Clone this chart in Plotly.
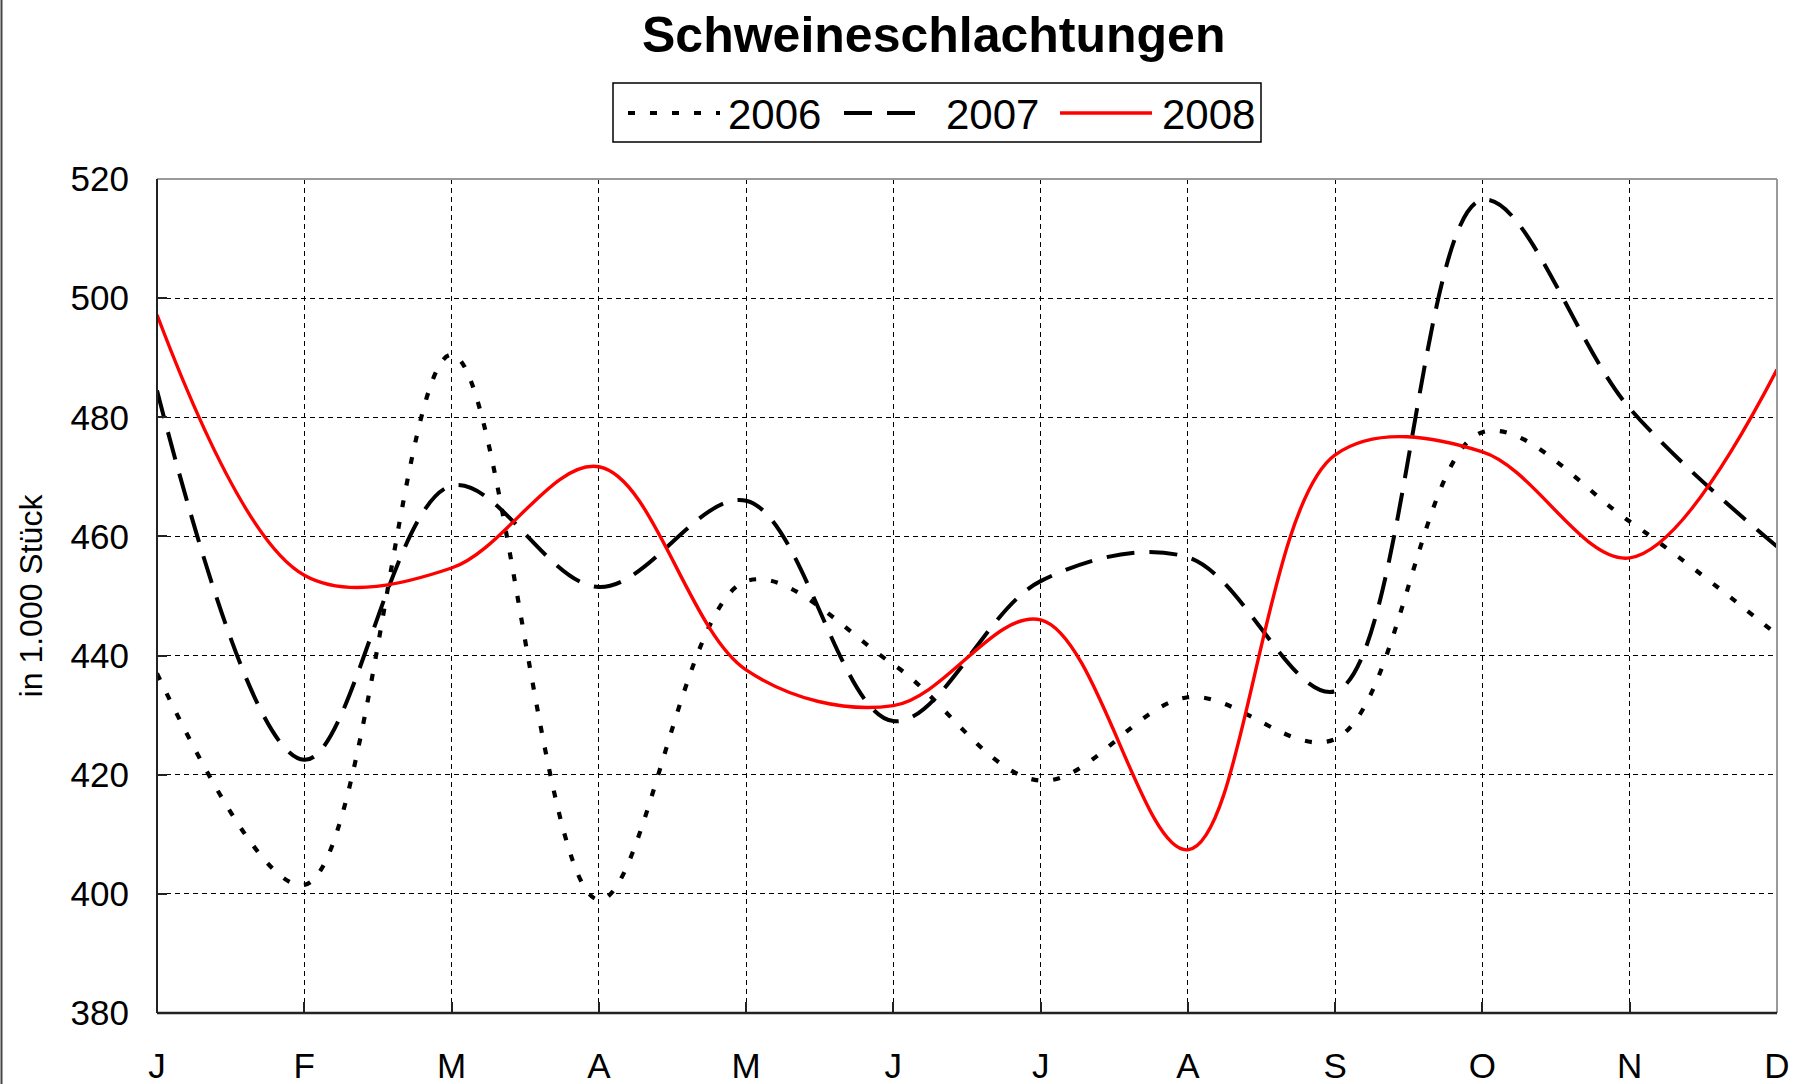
import plotly.graph_objects as go

# ---------------- data ----------------
months = ["J", "F", "M", "A", "M", "J", "J", "A", "S", "O", "N", "D"]
series_names = ["2006", "2007", "2008"]
v2006 = [437.0, 401.5, 490.5, 399.0, 452.5, 438.5, 419.0, 433.0, 426.0, 477.5, 462.5, 443.5]
v2007 = [484.5, 422.5, 468.5, 451.5, 466.0, 429.0, 452.5, 456.5, 434.0, 516.5, 481.5, 458.3]
v2008 = [497.2, 453.5, 454.7, 471.7, 437.6, 431.6, 446.0, 407.4, 473.7, 474.2, 456.4, 488.0]
y_tick_values = [380, 400, 420, 440, 460, 480, 500, 520]
title_text = "Schweineschlachtungen"
y_title = "in 1.000 Stück"

# ---------------- styles ----------------
W, H = 1801, 1084
L, R, T, B = 157, 1777, 179, 1013
FONT = "Liberation Sans, Arial, Helvetica, sans-serif"

styles = {
    "2006": dict(color="black", width=4.2, dash="7px,15px"),
    "2007": dict(color="black", width=4.0, dash="28px,15px"),
    "2008": dict(color="#ff0000", width=3.4, dash="solid"),
}
values = {"2006": v2006, "2007": v2007, "2008": v2008}


def px(x):
    return (x - L) / (R - L)


def py(y):
    return (B - y) / (B - T)


x_idx = list(range(len(months)))

fig = go.Figure()
for name in series_names:
    fig.add_trace(go.Scatter(
        x=x_idx, y=values[name], name=name, mode="lines",
        line=dict(shape="spline", smoothing=1.0, **styles[name]),
        showlegend=False,
    ))

shapes = []
annotations = []

# plot frame: gray top/right, dark left/bottom
shapes.append(dict(type="line", xref="paper", yref="paper", x0=0, x1=1, y0=1, y1=1,
                   line=dict(color="#9a9a9a", width=2), layer="above"))
shapes.append(dict(type="line", xref="paper", yref="paper", x0=1, x1=1, y0=0, y1=1,
                   line=dict(color="#9a9a9a", width=2), layer="above"))
shapes.append(dict(type="line", xref="paper", yref="paper", x0=0, x1=0, y0=0, y1=1,
                   line=dict(color="#222222", width=2), layer="above"))
shapes.append(dict(type="line", xref="paper", yref="paper", x0=0, x1=1, y0=0, y1=0,
                   line=dict(color="#222222", width=2.5), layer="above"))
# outer frame line on the left edge of the picture
shapes.append(dict(type="line", xref="paper", yref="paper", x0=px(1.5), x1=px(1.5),
                   y0=py(0), y1=py(H), line=dict(color="#444444", width=2), layer="above"))

# custom legend
shapes.append(dict(type="rect", xref="paper", yref="paper",
                   x0=px(613), x1=px(1261), y0=py(142), y1=py(83),
                   line=dict(color="black", width=1.5), fillcolor="white", layer="above"))
sample_x = [(628, 720), (844, 930), (1060, 1152)]
text_x = [726, 944, 1160]
leg_y = 113
for name, (sx0, sx1), tx in zip(series_names, sample_x, text_x):
    st = styles[name]
    shapes.append(dict(type="line", xref="paper", yref="paper",
                       x0=px(sx0), x1=px(sx1), y0=py(leg_y), y1=py(leg_y),
                       line=dict(color=st["color"], width=st["width"], dash=st["dash"]),
                       layer="above"))
    annotations.append(dict(text=name, xref="paper", yref="paper", x=px(tx), y=py(leg_y + 1),
                            xanchor="left", yanchor="middle", showarrow=False,
                            font=dict(family=FONT, size=42, color="black")))

# title
annotations.append(dict(text="<b>" + title_text + "</b>", xref="paper", yref="paper",
                        x=px(933), y=py(35), xanchor="center", yanchor="middle",
                        showarrow=False, font=dict(family=FONT, size=50, color="black")))

fig.update_layout(
    width=W, height=H,
    margin=dict(l=L, r=W - R, t=T, b=H - B, pad=0),
    paper_bgcolor="white", plot_bgcolor="white",
    font=dict(family=FONT, color="black"),
    shapes=shapes, annotations=annotations,
    showlegend=False,
)

fig.update_xaxes(
    range=[0, len(months) - 1], tickvals=x_idx, ticktext=months,
    showgrid=True, gridcolor="black", gridwidth=1, griddash="5px,4px",
    zeroline=False, showline=False,
    ticks="inside", ticklen=11, tickwidth=1.5, tickcolor="#222222",
    tickfont=dict(family=FONT, size=35, color="black"),
    ticklabelstandoff=29, automargin=False, fixedrange=True,
)
fig.update_yaxes(
    range=[380, 520], tickvals=y_tick_values,
    showgrid=True, gridcolor="black", gridwidth=1, griddash="5px,4px",
    zeroline=False, showline=False,
    ticks="inside", ticklen=10, tickwidth=1.5, tickcolor="#222222",
    tickfont=dict(family=FONT, size=35, color="black"),
    ticklabelstandoff=27,
    title=dict(text=y_title, font=dict(family=FONT, size=32, color="black"), standoff=18),
    automargin=False, fixedrange=True,
)

fig.write_html("out.html", config={"displayModeBar": False},
               post_script="document.body.style.margin='0';document.body.style.overflow='hidden';")
